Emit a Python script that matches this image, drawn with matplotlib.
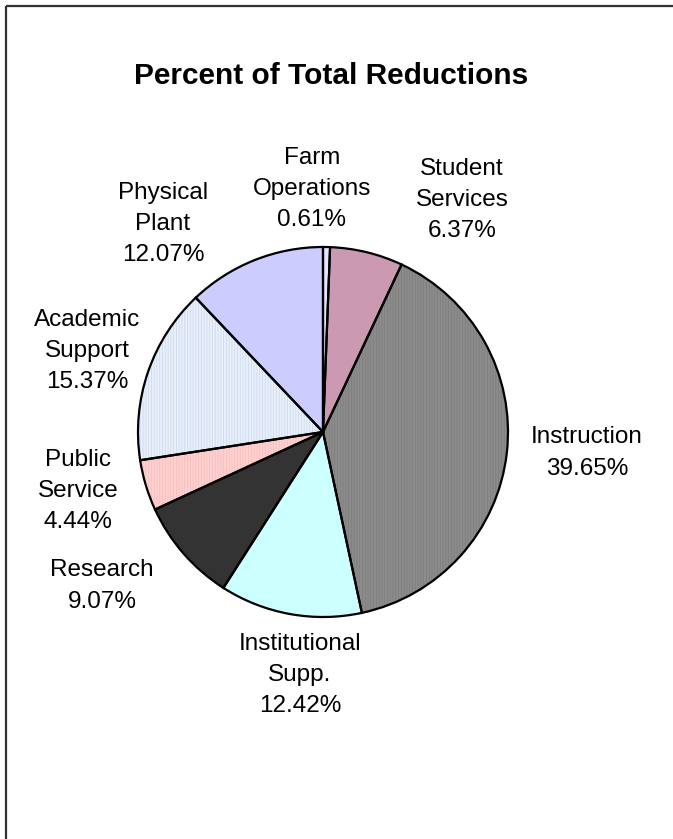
import matplotlib.pyplot as plt
import numpy as np

plt.rcParams["font.family"] = ["Liberation Sans", "DejaVu Sans"]
plt.rcParams["hatch.linewidth"] = 0.6

# slice data, clockwise from 12 o'clock
categories = ["Farm\nOperations", "Student\nServices", "Instruction",
              "Institutional\nSupp.", "Research", "Public\nService",
              "Academic\nSupport", "Physical\nPlant"]
percents = [0.61, 6.37, 39.65, 12.42, 9.07, 4.44, 15.37, 12.07]

colors = ["#E4E4FA", "#CC99B2", "#8C8C8C", "#CCFFFF", "#333333",
          "#FFD0D0", "#EAF0FA", "#CCCCFF"]
stripe = [None, None, "#7E7E7E", None, None, "#F4C0C0", "#CCDAF0", None]

# label anchor points (pixels from top-left)
label_xy = [(312, 189), (462, 200), (587, 453), (300, 675),
            (102, 586), (78, 491), (87, 351), (163, 224)]

W, H = 673, 839
fig = plt.figure(figsize=(W / 100, H / 100), dpi=100)
ax = fig.add_axes([0, 0, 1, 1])

cx, cy, r = 323, H - 432, 185

# fill layer (hatch colour comes from edgecolor)
wedges, _ = ax.pie(percents, startangle=90, counterclock=False,
                   center=(cx, cy), radius=r, colors=colors,
                   wedgeprops=dict(linewidth=0))
for w, s in zip(wedges, stripe):
    if s is not None:
        w.set_hatch("|" * 6)
        w.set_edgecolor(s)
        w.set_linewidth(0)

# outline layer
ax.pie(percents, startangle=90, counterclock=False,
       center=(cx, cy), radius=r, colors=["none"] * len(percents),
       wedgeprops=dict(linewidth=1.6, edgecolor="black"))

for name, val, (lx, ly) in zip(categories, percents, label_xy):
    ax.text(lx, H - ly, f"{name}\n{val:.2f}%", ha="center", va="center",
            fontsize=17.5, linespacing=1.55, color="black")

ax.text(331, H - 76, "Percent of Total Reductions", ha="center",
        va="center", fontsize=21.5, fontweight="bold")

# chart area border (top and left edges)
ax.plot([5.5, 5.5], [0, H - 5.5], color="#333333", lw=1.6,
        solid_capstyle="butt")
ax.plot([5.5, W], [H - 5.5, H - 5.5], color="#333333", lw=1.6,
        solid_capstyle="butt")

ax.set_xlim(0, W)
ax.set_ylim(0, H)
ax.set_aspect("auto")
ax.set_axis_off()

fig.savefig("out.png", dpi=100)
